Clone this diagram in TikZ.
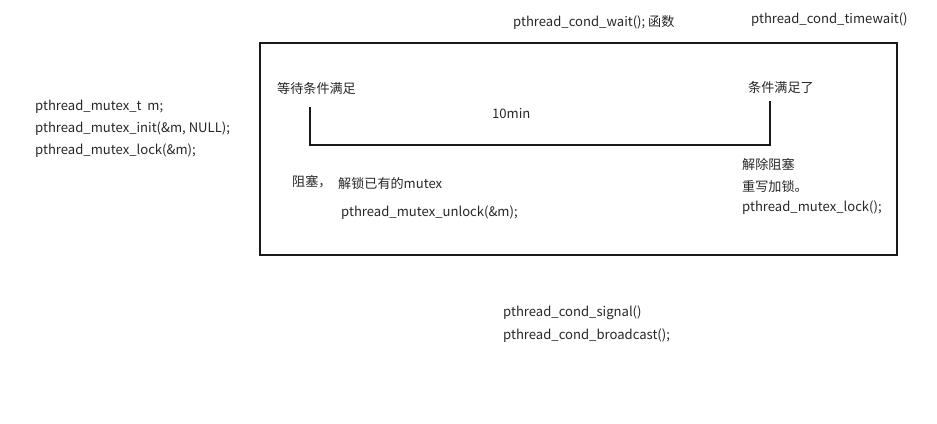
\documentclass[tikz,border=0pt]{standalone}
\usepackage{fontspec}
\setmainfont{Noto Sans CJK SC}
\usetikzlibrary{positioning}

\begin{document}
\begin{tikzpicture}[x=1pt,y=-1pt,
  txt/.style={anchor=west, inner sep=0pt, font=\fontsize{13.1}{15}\selectfont, text=black!85},
  frame/.style={draw=black!90, line width=1.8pt},
  waitline/.style={draw=black!90, line width=2.4pt}]
\def\ls{22}
\useasboundingbox (0,0) rectangle (937,423);
%\draw[help lines] (0,0) grid[step=50] (937,423);

% the box
\node [frame, minimum width=637, minimum height=212, inner sep=0pt, name=box] at (578.5,149) {};

% titles above the box
\node [txt, name=wait]     at (513,22) {pthread\_cond\_wait(); 函数};
\node [txt, name=timewait] at (751,20) {pthread\_cond\_timewait()};

% mutex calls on the left
\node [txt, name=m1] at (35,107) {pthread\_mutex\_t\ \ m;};
\node [txt, name=m2] at (35,107+\ls) {pthread\_mutex\_init(\&m, NULL);};
\node [txt, name=m3] at (35,107+2*\ls) {pthread\_mutex\_lock(\&m);};

% inside the box
\node [txt, name=cond1] at (277,88) {等待条件满足};
\node [txt, name=cond2] at (748,88) {条件满足了};
\node [txt, name=tmin]  at (492,114) {10min};
\node [txt, name=blk]   at (292,182) {阻塞，};
\node [txt, name=unl]   at (338,183) {解锁已有的mutex};
\node [txt, name=unlc]  at (341,213) {pthread\_mutex\_unlock(\&m);};
\node [txt, name=r1] at (742,164) {解除阻塞};
\node [txt, name=r2] at (742,164+\ls) {重写加锁。};
\node [txt, name=r3] at (742,164+2*\ls) {pthread\_mutex\_lock();};

% signal calls below
\node [txt, name=sig]   at (503,313) {pthread\_cond\_signal()};
\node [txt, name=bcast] at (503,313+\ls+1) {pthread\_cond\_broadcast();};

% waiting time line
\coordinate (wl)  at (310,107);
\coordinate (wr)  at (770,101);
\coordinate (bot) at (540,145);
\draw [waitline] (wl) |- (bot) -| (wr);
\end{tikzpicture}
\end{document}
